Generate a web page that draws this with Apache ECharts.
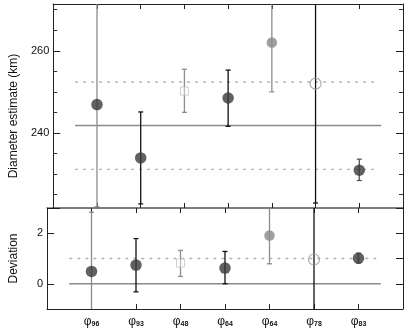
<!DOCTYPE html>
<html><head><meta charset="utf-8">
<script src="https://cdn.jsdelivr.net/npm/echarts@6/dist/echarts.min.js"></script>
<style>html,body{margin:0;padding:0;background:#fff}#c{width:407px;height:330px}</style>
</head><body><div id="c"></div>
<script>
// ---- data ----
const categories = ['96', '93', '48', '64', '64', '78', '83'];
const xPos = [1, 2, 3, 4, 5, 6, 7];
const diamValue = [246.9, 233.9, 250.2, 248.5, 262.0, 252.0, 230.9];
const diamLow   = [222.0, 222.7, 245.0, 241.6, 250.0, 222.9, 228.4];
const diamHigh  = [290.0, 245.1, 255.5, 255.3, 290.0, 290.0, 233.6];
const devValue  = [0.49, 0.74, 0.82, 0.62, 1.91, 0.96, 1.01];
const devLow    = [-2.0, -0.32, 0.29, 0.00, 0.79, -2.0, 0.82];
const devHigh   = [2.83, 1.79, 1.32, 1.28, 4.0, 4.0, 1.21];
const markerKind = ['dark', 'dark', 'square', 'dark', 'gray', 'open', 'dark'];
const diamMean = 241.8;
const diamBand = [231.1, 252.4];
const devMean = 0;
const devBand = [1];
const solidSpan = [0.5, 7.5];
const dashSpan = [0.5, 7.42];
const diamTicks = [240, 260];
const devTicks = [0, 2];

// ---- styles ----
const FONT = 'Liberation Sans';
const barColor = ['#8c8c8c', '#111', '#8c8c8c', '#111', '#8c8c8c', '#111', '#555'];
const markerStyle = {
  dark:   { symbol: 'circle', symbolSize: 11.5, itemStyle: { color: '#3a3a3a' } },
  gray:   { symbol: 'circle', symbolSize: 10.5, itemStyle: { color: '#888' } },
  square: { symbol: 'rect', symbolSize: 8, itemStyle: { color: 'rgba(255,255,255,0.5)', borderColor: '#c4c4c4', borderWidth: 1 } },
  open:   { symbol: 'circle', symbolSize: 11, itemStyle: { color: 'rgba(255,255,255,0)', borderColor: '#999', borderWidth: 1.2 } }
};

function errRender(params, api) {
  const idx = params.dataIndex;
  const x = api.value(0), lo = api.value(1), hi = api.value(2);
  const pLo = api.coord([x, lo]), pHi = api.coord([x, hi]);
  const w = 2.5;
  const style = { stroke: barColor[idx], lineWidth: 1.3 };
  return {
    type: 'group',
    children: [
      { type: 'line', shape: { x1: pLo[0], y1: pLo[1], x2: pHi[0], y2: pHi[1] }, style },
      { type: 'line', shape: { x1: pLo[0] - w, y1: pLo[1], x2: pLo[0] + w, y2: pLo[1] }, style },
      { type: 'line', shape: { x1: pHi[0] - w, y1: pHi[1], x2: pHi[0] + w, y2: pHi[1] }, style }
    ]
  };
}

function pointData(vals) {
  return xPos.map((x, i) => Object.assign({ value: [x, vals[i]] }, markerStyle[markerKind[i]]));
}
function hLine(y, span) { return [[span[0], y], [span[1], y]]; }

const tickStyle = { lineStyle: { color: '#222', width: 1 } };
function xAx(gridIndex, position, lineColor, labels) {
  return {
    type: 'value', gridIndex, position, min: 0, max: 8, interval: 1,
    axisLine: { show: true, onZero: false, lineStyle: { color: lineColor, width: lineColor === '#222' ? 1 : 1.6 } },
    axisTick: Object.assign({ show: true, inside: true, length: 5 }, tickStyle),
    splitLine: { show: false },
    axisLabel: labels ? {
      show: true, margin: 7,
      formatter: v => (Number.isInteger(v) && v >= 1 && v <= categories.length) ? '{p|φ}{s|' + categories[v - 1] + '}' : '',
      rich: {
        p: { fontSize: 12, fontFamily: FONT, color: '#111' },
        s: { fontSize: 7, fontWeight: 'bold', fontFamily: FONT, color: '#111', verticalAlign: 'bottom', padding: [5, 0, 0, 0] }
      }
    } : { show: false }
  };
}

const chart = echarts.init(document.getElementById('c'), null, { renderer: 'canvas' });
chart.setOption({
  animation: false,
  backgroundColor: '#fff',
  grid: [
    { left: 47, right: 4, top: 4, height: 204 },
    { left: 47, right: 4, top: 208, bottom: 21 }
  ],
  xAxis: [
    xAx(0, 'bottom', '#777', false),
    xAx(0, 'top', '#222', false),
    xAx(1, 'bottom', '#222', true),
    xAx(1, 'top', '#777', false)
  ],
  yAxis: [
    {
      type: 'value', gridIndex: 0, position: 'left', min: 221.7, max: 271.4, minInterval: 20, maxInterval: 20,
      name: 'Diameter estimate (km)', nameLocation: 'middle', nameGap: 27,
      nameTextStyle: { fontSize: 12, fontFamily: FONT, color: '#111', padding: [0, 0, 0, -20] },
      axisLine: { show: true, onZero: false, lineStyle: { color: '#222' } },
      axisTick: Object.assign({ show: true, inside: true, length: 7 }, tickStyle),
      minorTick: { show: true, splitNumber: 4, length: 4, lineStyle: { color: '#333' } },
      splitLine: { show: false },
      axisLabel: { margin: 4, fontSize: 11, fontFamily: FONT, color: '#111', formatter: v => diamTicks.includes(v) ? String(v) : '' }
    },
    {
      type: 'value', gridIndex: 0, position: 'right', min: 221.7, max: 271.4, minInterval: 20, maxInterval: 20,
      axisLine: { show: true, onZero: false, lineStyle: { color: '#222' } },
      axisTick: Object.assign({ show: true, inside: true, length: 7 }, tickStyle),
      minorTick: { show: true, splitNumber: 4, length: 4, lineStyle: { color: '#333' } },
      splitLine: { show: false }, axisLabel: { show: false }
    },
    {
      type: 'value', gridIndex: 1, position: 'left', min: -1, max: 3, minInterval: 2, maxInterval: 2,
      name: 'Deviation', nameLocation: 'middle', nameGap: 27,
      nameTextStyle: { fontSize: 12, fontFamily: FONT, color: '#111' },
      axisLine: { show: true, onZero: false, lineStyle: { color: '#222' } },
      axisTick: Object.assign({ show: true, inside: true, length: 7 }, tickStyle),
      splitLine: { show: false },
      axisLabel: { margin: 4, fontSize: 11, fontFamily: FONT, color: '#111', formatter: v => devTicks.includes(v) ? String(v) : '' }
    },
    {
      type: 'value', gridIndex: 1, position: 'right', min: -1, max: 3, interval: 1,
      axisLine: { show: true, onZero: false, lineStyle: { color: '#222' } },
      axisTick: Object.assign({ show: true, inside: true, length: 7 }, tickStyle),
      splitLine: { show: false }, axisLabel: { show: false }
    }
  ],
  series: [
    { type: 'line', xAxisIndex: 0, yAxisIndex: 0, data: hLine(diamMean, solidSpan), symbol: 'none', lineStyle: { color: '#8a8a8a', width: 1.3 }, z: 1 },
    ...diamBand.map(y => ({ type: 'line', xAxisIndex: 0, yAxisIndex: 0, data: hLine(y, dashSpan), symbol: 'none', lineStyle: { color: '#b4b4b4', width: 1.3, type: [3, 5] }, z: 1 })),
    { type: 'line', xAxisIndex: 2, yAxisIndex: 2, data: hLine(devMean, solidSpan), symbol: 'none', lineStyle: { color: '#8a8a8a', width: 1.3 }, z: 1 },
    ...devBand.map(y => ({ type: 'line', xAxisIndex: 2, yAxisIndex: 2, data: hLine(y, dashSpan), symbol: 'none', lineStyle: { color: '#b4b4b4', width: 1.3, type: [3, 5] }, z: 1 })),
    { type: 'custom', xAxisIndex: 0, yAxisIndex: 0, clip: true, renderItem: errRender, data: xPos.map((x, i) => [x, diamLow[i], diamHigh[i]]), z: 2 },
    { type: 'custom', xAxisIndex: 2, yAxisIndex: 2, clip: true, renderItem: errRender, data: xPos.map((x, i) => [x, devLow[i], devHigh[i]]), z: 2 },
    { type: 'scatter', xAxisIndex: 0, yAxisIndex: 0, data: pointData(diamValue), z: 3 },
    { type: 'scatter', xAxisIndex: 2, yAxisIndex: 2, data: pointData(devValue), z: 3 }
  ]
});
</script></body></html>
